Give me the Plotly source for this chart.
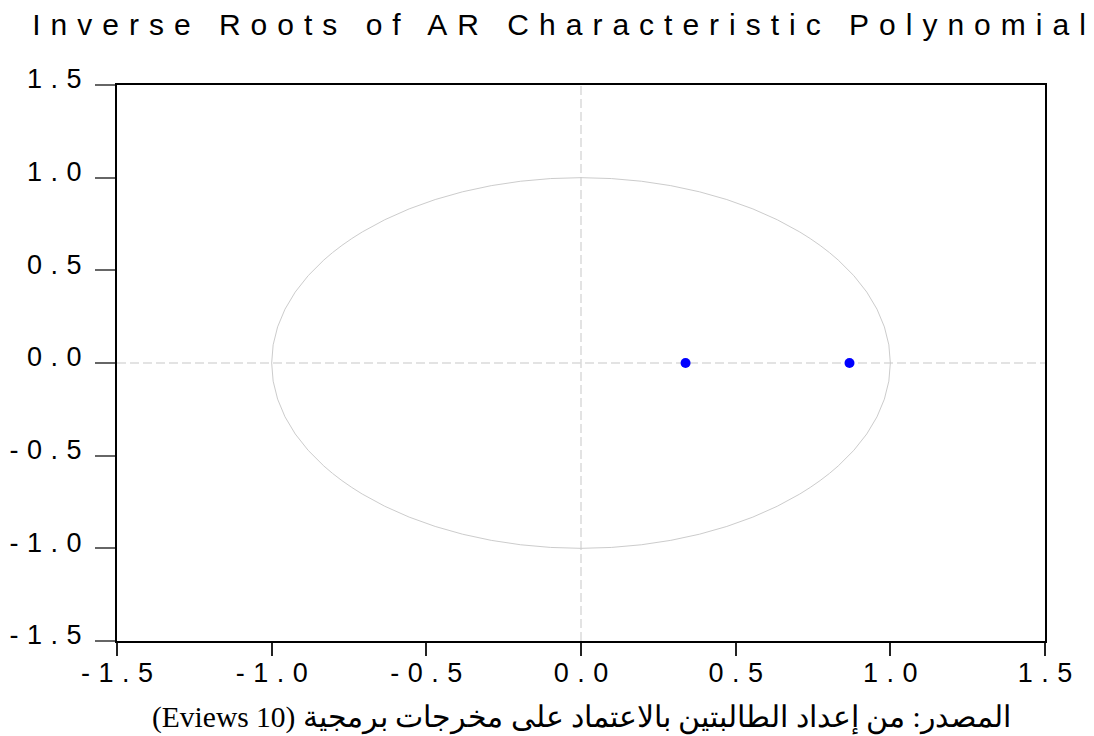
import plotly.graph_objects as go

# ---- data ----
root_real = [0.338, 0.868]
root_imag = [0.0, 0.0]
unit_radius = 1.0
tick_values = [-1.5, -1.0, -0.5, 0.0, 0.5, 1.0, 1.5]
tick_labels = ["-1.5", "-1.0", "-0.5", "0.0", "0.5", "1.0", "1.5"]
title_text = "Inverse Roots of AR Characteristic Polynomial"
caption_text = "(Eviews 10)\u200e المصدر: من إعداد الطالبتين بالاعتماد على مخرجات برمجية"

SANS = "Liberation Sans, Arial, sans-serif"
SERIF = "Liberation Serif, Times New Roman, DejaVu Serif, serif"
TICK_SP = 8.5


def spaced(t, px):
    # letter-spacing on all but the last glyph, so no trailing gap
    return f'<span style="letter-spacing:{px}px">{t[:-1]}</span>{t[-1]}'


fig = go.Figure()
fig.add_trace(go.Scatter(
    x=root_real, y=root_imag, mode="markers",
    marker=dict(color="#0000ff", size=10, line=dict(width=0)),
    hoverinfo="x+y",
))

# unit circle and dashed zero lines
fig.add_shape(type="circle", xref="x", yref="y",
              x0=-unit_radius, y0=-unit_radius, x1=unit_radius, y1=unit_radius,
              line=dict(color="#cccccc", width=1), layer="below")
fig.add_shape(type="line", xref="x", yref="paper", x0=0, x1=0, y0=0, y1=1,
              line=dict(color="#dadada", width=1.5, dash="9px,4px"), layer="below")
fig.add_shape(type="line", xref="paper", yref="y", x0=0, x1=1, y0=0, y1=0,
              line=dict(color="#dadada", width=1.5, dash="9px,4px"), layer="below")

fig.update_layout(
    width=1094, height=736,
    margin=dict(l=117, r=49, t=85, b=95, autoexpand=False),
    plot_bgcolor="white", paper_bgcolor="white",
    showlegend=False,
    title=dict(text=spaced(title_text, 10), x=0.511, xanchor="center",
               y=1 - 24 / 736, yanchor="middle", yref="container",
               font=dict(family=SANS, size=30, color="black")),
    xaxis=dict(range=[-1.5, 1.5], tickvals=tick_values,
               ticktext=[spaced(t, TICK_SP) for t in tick_labels],
               ticks="outside", ticklen=13, tickwidth=1.5, tickcolor="#222",
               showgrid=False, zeroline=False, automargin=False,
               showline=True, linecolor="black", linewidth=2, mirror=True,
               tickfont=dict(family=SANS, size=27, color="black"),
               ticklabelstandoff=-6),
    yaxis=dict(range=[-1.5, 1.5], tickvals=tick_values,
               ticktext=[spaced(t, TICK_SP) for t in tick_labels],
               ticks="outside", ticklen=20, tickwidth=1.5, tickcolor="#666",
               showgrid=False, zeroline=False, automargin=False,
               showline=True, linecolor="black", linewidth=2, mirror=True,
               tickfont=dict(family=SANS, size=27, color="black"),
               ticklabelstandoff=8, ticklabelshift=-6),
)

fig.add_annotation(text=caption_text, xref="paper", yref="paper",
                   x=0.5, y=-0.1385, xanchor="center", yanchor="middle",
                   showarrow=False,
                   font=dict(family=SERIF, size=29.5, color="black"))

fig.write_html("out.html")
